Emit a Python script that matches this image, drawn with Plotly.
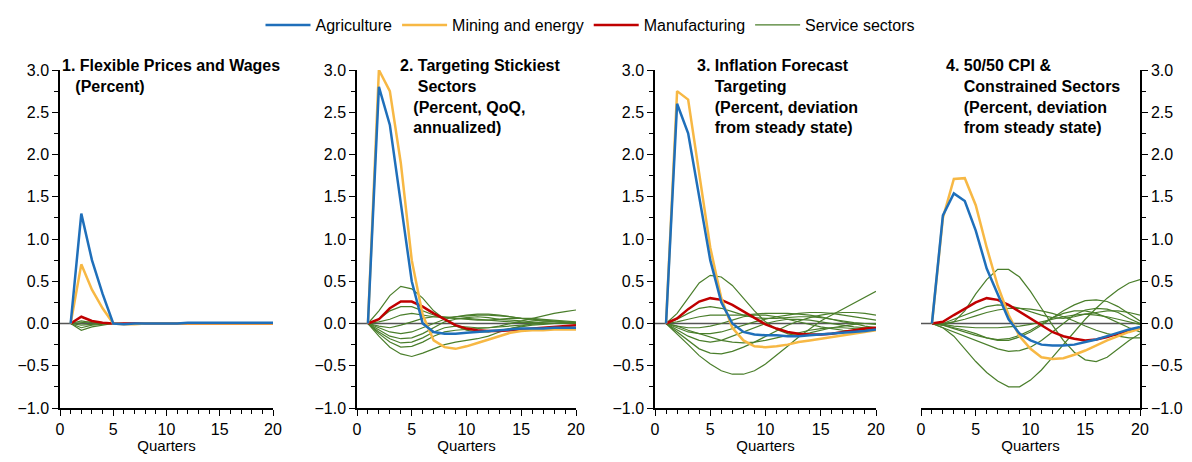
import plotly.graph_objects as go

quarters = list(range(1, 21))

p1_agri = [0, 1.3, 0.75, 0.35, 0, -0.01, 0, 0, 0, 0, 0, 0.01, 0.01, 0.01, 0.01, 0.01, 0.01, 0.01, 0.01, 0.01]
p1_mining = [0, 0.7, 0.4, 0.18, 0, -0.01, -0.01, 0, 0, 0, 0, 0, 0, 0, 0, 0, 0, 0, 0, 0]
p1_manuf = [0, 0.08, 0.03, 0.01, 0, 0, 0, 0, 0, 0, 0, 0, 0, 0, 0, 0, 0, 0, 0, 0]
p1_serv = [
    [0, 0.03, 0.01, 0, 0, 0, 0, 0, 0, 0, 0, 0, 0, 0, 0, 0, 0, 0, 0, 0],
    [0, -0.02, -0.01, 0, 0, 0, 0, 0, 0, 0, 0, 0, 0, 0, 0, 0, 0, 0, 0, 0],
    [0, -0.05, -0.02, -0.01, 0, 0, 0, 0, 0, 0, 0, 0, 0, 0, 0, 0, 0, 0, 0, 0],
    [0, -0.08, -0.04, -0.02, 0, 0, 0, 0, 0, 0, 0, 0, 0, 0, 0, 0, 0, 0, 0, 0],
    [0, 0.01, 0.02, 0.01, 0, 0, 0, 0, 0, 0, 0, 0, 0, 0, 0, 0, 0, 0, 0, 0],
]

p2_agri = [0, 2.8, 2.35, 1.4, 0.5, 0, -0.1, -0.12, -0.12, -0.11, -0.1, -0.09, -0.08, -0.07, -0.06, -0.06, -0.06, -0.05, -0.05, -0.05]
p2_mining = [0, 3.0, 2.75, 1.9, 0.75, 0.1, -0.2, -0.28, -0.3, -0.27, -0.23, -0.19, -0.15, -0.11, -0.09, -0.08, -0.08, -0.07, -0.07, -0.07]
p2_manuf = [0, 0.05, 0.18, 0.26, 0.26, 0.2, 0.12, 0.05, -0.02, -0.06, -0.08, -0.09, -0.09, -0.08, -0.07, -0.06, -0.05, -0.04, -0.03, -0.02]
p2_serv = [
    [0, 0.15, 0.33, 0.44, 0.41, 0.3, 0.15, 0.05, -0.03, -0.08, -0.1, -0.1, -0.08, -0.06, -0.04, -0.02, -0.01, 0, 0, 0],
    [0, 0.05, 0.15, 0.2, 0.2, 0.15, 0.1, 0.07, 0.06, 0.06, 0.05, 0.04, 0.03, 0.02, 0.01, 0.01, 0, 0, 0, 0],
    [0, 0.02, 0.05, 0.1, 0.12, 0.1, 0.08, 0.07, 0.08, 0.09, 0.1, 0.1, 0.09, 0.08, 0.06, 0.05, 0.04, 0.03, 0.02, 0.01],
    [0, -0.03, -0.05, -0.02, 0.02, 0.06, 0.08, 0.08, 0.06, 0.05, 0.04, 0.04, 0.05, 0.06, 0.06, 0.06, 0.05, 0.04, 0.03, 0.02],
    [0, -0.05, -0.1, -0.12, -0.1, -0.05, 0, 0.05, 0.08, 0.1, 0.11, 0.11, 0.1, 0.08, 0.06, 0.04, 0.03, 0.02, 0.01, 0],
    [0, -0.08, -0.15, -0.18, -0.17, -0.12, -0.05, 0.02, 0.05, 0.07, 0.08, 0.07, 0.05, 0.04, 0.03, 0.02, 0.01, 0, 0, 0],
    [0, -0.1, -0.18, -0.23, -0.22, -0.17, -0.1, -0.05, -0.03, -0.04, -0.05, -0.05, -0.04, -0.03, -0.02, -0.01, 0, 0, 0, 0],
    [0, -0.12, -0.22, -0.28, -0.27, -0.22, -0.15, -0.1, -0.08, -0.07, -0.06, -0.05, -0.03, 0, 0.03, 0.06, 0.09, 0.12, 0.14, 0.16],
    [0, -0.15, -0.28, -0.36, -0.39, -0.35, -0.3, -0.25, -0.22, -0.2, -0.18, -0.15, -0.1, -0.06, -0.03, 0, 0.02, 0.02, 0.01, 0.01],
]

p3_agri = [0, 2.6, 2.25, 1.5, 0.75, 0.25, 0, -0.1, -0.13, -0.14, -0.14, -0.15, -0.15, -0.14, -0.13, -0.12, -0.11, -0.1, -0.09, -0.07]
p3_mining = [0, 2.75, 2.65, 1.8, 0.9, 0.3, -0.05, -0.2, -0.27, -0.28, -0.27, -0.25, -0.22, -0.2, -0.18, -0.16, -0.14, -0.12, -0.1, -0.08]
p3_manuf = [0, 0.06, 0.17, 0.26, 0.3, 0.28, 0.22, 0.14, 0.06, -0.01, -0.06, -0.1, -0.12, -0.13, -0.13, -0.12, -0.1, -0.08, -0.06, -0.05]
p3_serv = [
    [0, 0.12, 0.3, 0.48, 0.57, 0.55, 0.45, 0.3, 0.15, 0.02, -0.07, -0.12, -0.13, -0.11, -0.08, -0.05, -0.03, -0.01, 0, 0],
    [0, 0.05, 0.12, 0.18, 0.2, 0.18, 0.14, 0.1, 0.07, 0.06, 0.06, 0.07, 0.08, 0.08, 0.07, 0.05, 0.03, 0.01, 0, -0.01],
    [0, 0.02, 0.05, 0.08, 0.1, 0.1, 0.1, 0.1, 0.11, 0.12, 0.12, 0.12, 0.11, 0.1, 0.08, 0.05, 0.02, 0, -0.03, -0.05],
    [0, -0.03, -0.05, -0.05, -0.03, 0, 0.04, 0.08, 0.1, 0.1, 0.08, 0.05, 0.02, -0.01, -0.04, -0.06, -0.08, -0.09, -0.09, -0.08],
    [0, -0.05, -0.1, -0.12, -0.12, -0.1, -0.06, -0.02, 0.02, 0.05, 0.08, 0.1, 0.12, 0.13, 0.13, 0.12, 0.1, 0.08, 0.06, 0.04],
    [0, -0.08, -0.15, -0.2, -0.22, -0.2, -0.15, -0.1, -0.05, 0, 0.03, 0.05, 0.05, 0.04, 0.02, 0, -0.02, -0.04, -0.05, -0.06],
    [0, -0.1, -0.2, -0.3, -0.35, -0.36, -0.33, -0.28, -0.22, -0.15, -0.08, -0.02, 0.03, 0.07, 0.1, 0.12, 0.13, 0.13, 0.12, 0.1],
    [0, -0.12, -0.25, -0.38, -0.48, -0.56, -0.6, -0.6, -0.56, -0.48, -0.38, -0.27, -0.16, -0.06, 0.03, 0.1, 0.17, 0.24, 0.31, 0.38],
    [0, -0.03, -0.08, -0.12, -0.16, -0.2, -0.22, -0.23, -0.22, -0.2, -0.17, -0.14, -0.11, -0.08, -0.06, -0.05, -0.05, -0.06, -0.07, -0.08],
]

p4_agri = [0, 1.28, 1.54, 1.45, 1.1, 0.65, 0.35, 0.05, -0.12, -0.2, -0.25, -0.26, -0.26, -0.25, -0.22, -0.19, -0.15, -0.11, -0.07, -0.04]
p4_mining = [0, 1.25, 1.71, 1.72, 1.4, 0.9, 0.45, 0.1, -0.15, -0.3, -0.4, -0.42, -0.41, -0.37, -0.32, -0.26, -0.2, -0.15, -0.1, -0.06]
p4_manuf = [0, 0.02, 0.1, 0.18, 0.25, 0.3, 0.28, 0.22, 0.14, 0.06, -0.03, -0.1, -0.15, -0.18, -0.2, -0.19, -0.16, -0.12, -0.09, -0.06]
p4_serv = [
    [0, -0.02, 0.02, 0.15, 0.35, 0.52, 0.64, 0.64, 0.55, 0.38, 0.18, -0.02, -0.2, -0.34, -0.43, -0.45, -0.4, -0.3, -0.2, -0.12],
    [0, -0.05, -0.15, -0.3, -0.45, -0.58, -0.68, -0.75, -0.75, -0.67, -0.55, -0.4, -0.25, -0.1, 0.05, 0.18, 0.3, 0.4, 0.48, 0.52],
    [0, 0, 0.05, 0.1, 0.15, 0.2, 0.22, 0.21, 0.18, 0.14, 0.1, 0.07, 0.06, 0.08, 0.11, 0.13, 0.15, 0.15, 0.13, 0.1],
    [0, -0.02, -0.05, -0.08, -0.12, -0.17, -0.2, -0.2, -0.16, -0.1, -0.02, 0.07, 0.15, 0.22, 0.27, 0.28, 0.26, 0.2, 0.12, 0.03],
    [0, -0.05, -0.1, -0.15, -0.2, -0.25, -0.3, -0.33, -0.32, -0.28, -0.2, -0.1, 0, 0.1, 0.16, 0.18, 0.17, 0.13, 0.06, 0],
    [0, -0.02, -0.06, -0.1, -0.14, -0.17, -0.19, -0.18, -0.14, -0.08, 0, 0.07, 0.12, 0.15, 0.15, 0.12, 0.07, 0.01, -0.05, -0.1],
    [0, 0, 0.02, 0.05, 0.09, 0.13, 0.16, 0.18, 0.18, 0.17, 0.15, 0.12, 0.08, 0.03, -0.03, -0.08, -0.12, -0.15, -0.17, -0.17],
    [0, -0.01, -0.03, -0.04, -0.05, -0.05, -0.05, -0.04, -0.03, -0.01, 0.02, 0.05, 0.08, 0.1, 0.11, 0.1, 0.08, 0.05, 0.02, -0.01],
]

titles = [
    "1. Flexible Prices and Wages<br>   (Percent)",
    "2. Targeting Stickiest<br>    Sectors<br>   (Percent, QoQ,<br>   annualized)",
    "3. Inflation Forecast<br>    Targeting<br>    (Percent, deviation<br>    from steady state)",
    "4. 50/50 CPI &<br>    Constrained Sectors<br>    (Percent, deviation<br>    from steady state)",
]
title_x = [60, 398, 695, 944]

panels = [
    (p1_agri, p1_mining, p1_manuf, p1_serv),
    (p2_agri, p2_mining, p2_manuf, p2_serv),
    (p3_agri, p3_mining, p3_manuf, p3_serv),
    (p4_agri, p4_mining, p4_manuf, p4_serv),
]

OFF = 8  # page body margin
W, H = 1192 - 2 * OFF, 462 - 2 * OFF
xdom = [(60, 273), (357, 576), (655, 876), (921, 1140)]
y_top, y_bot = 70, 408
ydom = [1 - (y_bot - OFF) / H, 1 - (y_top - OFF) / H]

BLUE, YELLOW, RED, GREEN = "#1f6fba", "#f7b844", "#c00000", "#4a7e2b"

fig = go.Figure()
for i, (agri, mining, manuf, serv) in enumerate(panels):
    k = "" if i == 0 else str(i + 1)
    xa, ya = "x" + k, "y" + k
    fig.add_trace(go.Scatter(x=[0, 20], y=[0, 0], mode="lines", line=dict(color="#555", width=1.5),
                             xaxis=xa, yaxis=ya, showlegend=False, hoverinfo="skip"))
    for j, s in enumerate(serv):
        fig.add_trace(go.Scatter(x=quarters, y=s, mode="lines", line=dict(color=GREEN, width=1.2),
                                 name="Service sectors", legendgroup="s", showlegend=(i == 0 and j == 0),
                                 xaxis=xa, yaxis=ya))
    fig.add_trace(go.Scatter(x=quarters, y=manuf, mode="lines", line=dict(color=RED, width=2.5),
                             name="Manufacturing", showlegend=(i == 0), xaxis=xa, yaxis=ya))
    fig.add_trace(go.Scatter(x=quarters, y=mining, mode="lines", line=dict(color=YELLOW, width=2.5),
                             name="Mining and energy", showlegend=(i == 0), xaxis=xa, yaxis=ya))
    fig.add_trace(go.Scatter(x=quarters, y=agri, mode="lines", line=dict(color=BLUE, width=2.5),
                             name="Agriculture", showlegend=(i == 0), xaxis=xa, yaxis=ya))

layout = dict(
    width=W, height=H, margin=dict(l=0, r=0, t=0, b=0, autoexpand=False),
    paper_bgcolor="white", plot_bgcolor="white",
    font=dict(family="Liberation Sans, Arial", size=15, color="black"),
    legend=dict(orientation="h", x=(590 - OFF) / W, xanchor="center", y=1.0, yanchor="top",
                yref="container", traceorder="reversed", font=dict(size=16), itemwidth=45),
    annotations=[],
)
for i in range(4):
    k = "" if i == 0 else str(i + 1)
    layout["xaxis" + k] = dict(domain=[(xdom[i][0] - OFF) / W, (xdom[i][1] - OFF) / W], range=[0, 20],
                               anchor="y" + k, showgrid=False, zeroline=False, showline=True,
                               automargin=False,
                               linecolor="black", linewidth=1.5, ticks="outside", ticklen=6,
                               tickcolor="black", dtick=5, tickfont=dict(size=16),
                               minor=dict(dtick=1, ticks="outside", ticklen=4, tickcolor="black"),
                               title=dict(text="Quarters", standoff=2, font=dict(size=15)))
    layout["yaxis" + k] = dict(domain=ydom, range=[-1, 3], anchor="x" + k,
                               side="right" if i == 3 else "left", automargin=False,
                               showgrid=False, zeroline=False, showline=True,
                               linecolor="black", linewidth=1.5, ticks="outside", ticklen=6,
                               tickcolor="black", dtick=0.5, tickformat=".1f", tickfont=dict(size=16),
                               minor=dict(dtick=0.25, ticks="outside", ticklen=4, tickcolor="black"))
    layout["annotations"].append(dict(text="<b>" + titles[i] + "</b>", x=(title_x[i] - OFF) / W,
                                      y=1 - (55 - OFF) / H,
                                      xref="paper", yref="paper", xanchor="left", yanchor="top",
                                      align="left", showarrow=False, font=dict(size=16)))
fig.update_layout(**layout)
fig.write_html("out.html")
